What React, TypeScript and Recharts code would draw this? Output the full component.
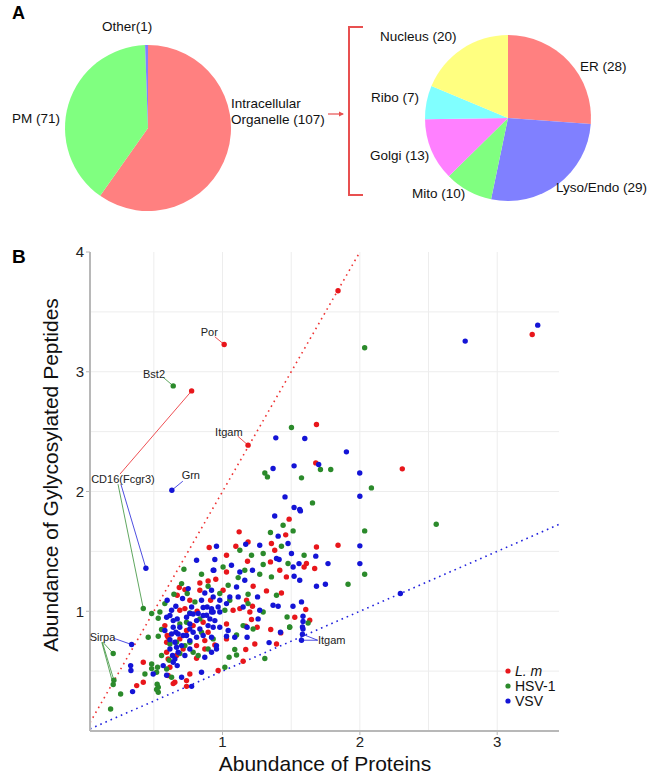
import React from "react";
import {
  CartesianGrid,
  Cell,
  Pie,
  PieChart,
  ReferenceDot,
  ReferenceLine,
  Scatter,
  ScatterChart,
  XAxis,
  YAxis,
} from "recharts";

// panel A
const locationNames = ["Intracellular Organelle", "PM", "Other"];
const locationCounts = [107, 71, 1];
const locationColors = ["#FF8080", "#80FF80", "#8080FF"];

const organelleNames = ["ER", "Lyso/Endo", "Mito", "Golgi", "Ribo", "Nucleus"];
const organelleCounts = [28, 29, 10, 13, 7, 20];
const organelleColors = ["#FF8080", "#8080FF", "#80FF80", "#FF80FF", "#80FFFF", "#FFFF80"];

// panel B: [protein abundance, glycopeptide abundance]
const lmPoints: [number, number][] = [
  [1.012, 3.228], [0.775, 2.84], [1.186, 2.387], [1.841, 3.676], [3.255, 3.311], [2.309, 2.189], [1.841, 1.551],
  [1.684, 2.56], [1.679, 2.239],
  [1.485, 1.769], [1.121, 1.663], [1.46, 1.638], [1.186, 1.579], [1.097, 1.543], [1.356, 1.566], [1.684, 1.537],
  [1.38, 1.51], [1.029, 1.468], [1.182, 1.418], [1.611, 1.399], [1.349, 1.412], [1.417, 1.343], [1.029, 1.328],
  [1.594, 1.37], [1.465, 1.287], [0.951, 1.267], [1.223, 1.209], [1.004, 1.175], [1.32, 1.17], [1.429, 1.153],
  [1.175, 1.092], [1.606, 1.014], [1.218, 1.042], [1.126, 1.022], [1.077, 1.008], [1.199, 0.994],
  [1.526, 0.95], [1.351, 0.847], [1.252, 0.866], [1.211, 0.931], [1.169, 0.875], [1.235, 0.727], [1.393, 0.727],
  [1.169, 0.68], [0.944, 0.718], [1.15, 0.582], [0.968, 0.505], [1.029, 0.769], [1.029, 0.894],
  [0.903, 1.532], [0.835, 1.236], [0.895, 1.253], [0.685, 1.198], [0.726, 1.181], [0.835, 1.175], [0.67, 1.134],
  [0.762, 1.092], [0.913, 1.092], [0.726, 1.022], [0.689, 1.008], [0.815, 1.0],
  [0.58, 0.88], [0.604, 0.783], [0.689, 0.769], [0.811, 0.713], [0.593, 0.657], [0.811, 0.607], [0.423, 0.574],
  [0.617, 0.532], [0.604, 0.463], [0.423, 0.407], [0.375, 0.379], [0.653, 0.407], [0.738, 0.421], [0.762, 0.476],
  [0.738, 0.839], [0.871, 0.755], [0.859, 0.908], [0.597, 0.797], [0.593, 0.741], [0.786, 0.88], [0.895, 0.825],
  [0.713, 0.685], [0.604, 0.602], [0.665, 0.63], [0.871, 0.685],
  [0.641, 0.396], [0.738, 0.373], [1.424, 0.819], [1.635, 0.925], [1.671, 1.357],
];

const hsvPoints: [number, number][] = [
  [0.641, 2.882], [0.423, 1.023], [0.204, 0.647], [0.209, 0.424], [0.204, 0.388], [2.035, 3.2], [1.713, 2.184],
  [1.788, 2.184], [2.084, 2.03], [2.556, 1.727], [2.035, 1.671], [2.035, 1.309], [1.914, 1.226],
  [1.502, 2.535], [1.308, 2.155], [1.327, 2.122], [1.575, 2.114],
  [1.655, 1.905], [1.441, 1.718], [1.349, 1.657], [1.514, 1.671], [1.429, 1.543], [1.126, 1.51], [1.296, 1.482],
  [1.211, 1.468], [1.594, 1.468], [1.477, 1.399], [1.296, 1.39], [1.004, 1.37], [1.162, 1.343], [1.271, 1.309],
  [1.356, 1.287], [1.114, 1.281], [1.041, 1.217], [0.98, 1.148], [1.393, 1.134], [1.186, 1.142], [1.296, 0.994],
  [1.017, 1.008], [1.053, 1.092], [1.186, 1.064],
  [1.47, 0.952], [1.623, 0.902], [1.489, 0.866], [1.223, 0.852], [1.102, 0.802], [1.089, 0.68], [1.102, 0.635],
  [1.048, 0.616], [1.017, 0.532], [0.932, 0.769], [1.15, 0.88], [1.308, 0.605],
  [0.719, 1.351], [0.847, 1.309], [0.702, 1.231], [0.895, 1.209], [0.743, 1.148], [0.646, 1.142], [0.799, 1.078],
  [0.58, 1.064], [0.544, 0.994], [0.484, 0.981], [0.762, 0.986],
  [0.532, 0.942], [0.556, 0.847], [0.459, 0.783], [0.532, 0.791], [0.726, 0.713], [0.823, 0.63], [0.484, 0.56],
  [0.527, 0.532], [0.52, 0.49], [0.435, 0.476], [0.532, 0.365], [0.532, 0.323], [0.258, 0.309], [0.629, 0.449],
  [0.185, 0.184], [0.665, 0.741], [0.847, 0.825], [0.895, 0.685], [0.689, 0.894], [0.617, 0.727], [0.762, 0.741],
  [0.786, 0.657], [0.556, 0.63], [0.593, 0.518], [0.738, 0.908], [0.835, 0.936],
  [0.52, 0.346], [0.524, 0.39], [0.484, 0.521], [0.612, 0.591], [0.689, 0.647], [1.489, 0.869],
];

const vsvPoints: [number, number][] = [
  [0.631, 2.011], [0.442, 1.359], [0.338, 0.722], [1.582, 0.808], [1.575, 0.758], [2.767, 3.256], [3.295, 3.389],
  [1.902, 2.331], [1.999, 2.155], [2.0, 1.96], [2.0, 1.546], [1.768, 1.398], [2.0, 1.398], [1.749, 1.226],
  [2.295, 1.148],
  [1.388, 2.448], [1.599, 2.443], [1.7, 2.226], [1.368, 2.192], [1.521, 2.214], [1.455, 1.955],
  [1.521, 1.866], [1.38, 1.796], [1.562, 1.85], [1.405, 1.627], [1.169, 1.56], [1.271, 1.551], [1.477, 1.566],
  [0.956, 1.543], [1.502, 1.482], [1.679, 1.46], [0.944, 1.432], [1.393, 1.44], [1.412, 1.432], [1.557, 1.398],
  [1.065, 1.384], [1.514, 1.37], [1.218, 1.343], [0.932, 1.343], [1.126, 1.328], [1.521, 1.292], [1.562, 1.259],
  [1.162, 1.259], [1.684, 1.209], [1.102, 1.203], [0.92, 1.175], [1.255, 1.12], [1.053, 1.12], [1.368, 1.05],
  [1.405, 1.042], [1.575, 1.078], [1.271, 1.008], [0.968, 1.036], [0.932, 0.994], [0.932, 1.12], [0.98, 1.092],
  [1.029, 1.064], [1.114, 1.12], [1.15, 1.036], [0.92, 1.022], [0.98, 0.994], [1.567, 1.838], [1.513, 1.042],
  [1.586, 0.958], [1.586, 0.914], [1.586, 0.852], [1.422, 0.825], [1.259, 0.936], [1.179, 0.783], [1.089, 0.783],
  [0.956, 0.685], [0.956, 0.713], [0.92, 0.657], [1.029, 0.791], [1.179, 0.866], [1.041, 0.839], [0.98, 0.866],
  [0.944, 0.922], [1.339, 0.738], [1.582, 0.869],
  [0.811, 1.426], [0.937, 1.343], [0.75, 1.189], [0.871, 1.153], [0.709, 1.106], [0.597, 1.092], [0.847, 1.092],
  [0.888, 1.036], [0.859, 1.031], [0.775, 1.036], [0.66, 1.042], [0.629, 1.008], [0.92, 0.994], [0.762, 0.981],
  [0.884, 0.967], [0.823, 0.981],
  [0.593, 0.95], [0.641, 0.922], [0.617, 0.763], [0.66, 0.825], [0.762, 0.755], [0.665, 0.699], [0.636, 0.63],
  [0.871, 0.616], [0.568, 0.546], [0.495, 0.476], [0.331, 0.546], [0.333, 0.505], [0.345, 0.329], [0.702, 0.449],
  [0.847, 0.49], [0.58, 0.839], [0.713, 0.797], [0.786, 0.825], [0.895, 0.88], [0.762, 0.894],
  [0.617, 0.964], [0.67, 0.936], [0.738, 0.95], [0.786, 0.977], [0.811, 0.922], [0.859, 0.964], [0.908, 0.936],
  [0.932, 0.866], [0.835, 0.852], [0.762, 0.852], [0.689, 0.866], [0.641, 0.866], [0.629, 0.81], [0.677, 0.81],
  [0.738, 0.797], [0.811, 0.783], [0.859, 0.797], [0.92, 0.783], [0.653, 0.741], [0.702, 0.713], [0.762, 0.685],
  [0.677, 0.657], [0.726, 0.63], [0.653, 0.602], [0.617, 0.685], [0.641, 0.574], [0.67, 0.546],
  [0.593, 0.465], [0.775, 0.373],
];

const seriesNames = ["L. m", "HSV-1", "VSV"];
const seriesColors = ["#E8161B", "#2B8A2B", "#1414D6"];

const xTicks = [1, 2, 3];
const yTicks = [1, 2, 3, 4];

// labelled proteins
const geneLabels = [
  { text: "Por", x: 0.904, y: 3.331 },
  { text: "Bst2", x: 0.501, y: 2.98 },
  { text: "Itgam", x: 1.046, y: 2.496 },
  { text: "CD16(Fcgr3)", x: 0.275, y: 2.103 },
  { text: "Grn", x: 0.769, y: 2.136 },
  { text: "Sirpa", x: 0.126, y: 0.783 },
  { text: "Itgam", x: 1.795, y: 0.758 },
];

const geneLinks = [
  { s: 0, from: [0.944, 3.292], to: [1.012, 3.228] },
  { s: 1, from: [0.566, 2.955], to: [0.641, 2.882] },
  { s: 0, from: [1.111, 2.462], to: [1.186, 2.387] },
  { s: 0, from: [0.253, 2.145], to: [0.775, 2.84] },
  { s: 1, from: [0.239, 2.061], to: [0.423, 1.023] },
  { s: 2, from: [0.26, 2.061], to: [0.442, 1.359] },
  { s: 2, from: [0.711, 2.086], to: [0.631, 2.011] },
  { s: 2, from: [0.209, 0.774], to: [0.338, 0.722] },
  { s: 1, from: [0.129, 0.741], to: [0.204, 0.647] },
  { s: 1, from: [0.125, 0.741], to: [0.209, 0.424] },
  { s: 1, from: [0.121, 0.741], to: [0.204, 0.388] },
  { s: 2, from: [1.693, 0.758], to: [1.582, 0.808] },
  { s: 2, from: [1.693, 0.758], to: [1.575, 0.758] },
];

const FONT = "'Liberation Sans', Arial, sans-serif";

const toRows = (pts: [number, number][]) => pts.map(([x, y]) => ({ x, y }));
const dot = (color: string) => (p: any) => <circle cx={p.cx} cy={p.cy} r={2.7} fill={color} />;

export default function App() {
  const pieA = locationNames.map((name, i) => ({ name, value: locationCounts[i] }));
  const pieB = organelleNames.map((name, i) => ({ name, value: organelleCounts[i] }));
  const series = [lmPoints, hsvPoints, vsvPoints];

  return (
    <div style={{ position: "absolute", left: 0, top: 0, width: 650, height: 776, background: "#fff", fontFamily: FONT }}>
      <div style={{ position: "absolute", left: 0, top: 0 }}>
        <PieChart width={650} height={235}>
          <Pie data={pieA} dataKey="value" cx={143} cy={123} outerRadius={83} startAngle={90} endAngle={-270}
            stroke="none" isAnimationActive={false}>
            {pieA.map((d, i) => <Cell key={d.name} fill={locationColors[i]} />)}
          </Pie>
          <Pie data={pieB} dataKey="value" cx={503} cy={113} outerRadius={83} startAngle={90} endAngle={-270}
            stroke="none" isAnimationActive={false}>
            {pieB.map((d, i) => <Cell key={d.name} fill={organelleColors[i]} />)}
          </Pie>
        </PieChart>
      </div>

      <div style={{ position: "absolute", left: 0, top: 240 }}>
        <ScatterChart width={650} height={536} margin={{ top: 12, right: 91, bottom: 0, left: 0 }}>
          <CartesianGrid stroke="#EDEDED" verticalValues={[0.5, 1, 1.5, 2, 2.5, 3]}
            horizontalValues={[0.5, 1, 1.5, 2, 2.5, 3, 3.5]} />
          <XAxis type="number" dataKey="x" domain={[0.035, 3.45]} allowDataOverflow ticks={xTicks} height={45}
            tick={{ fontSize: 15, fill: "#222", fontFamily: FONT }} tickSize={4} tickMargin={1}
            axisLine={{ stroke: "#B8B8B8", strokeWidth: 2 }} tickLine={{ stroke: "#B8B8B8" }} />
          <YAxis type="number" dataKey="y" domain={[0, 4]} allowDataOverflow ticks={yTicks} width={90}
            tick={{ fontSize: 15, fill: "#222", fontFamily: FONT }} tickSize={4} tickMargin={2}
            axisLine={{ stroke: "#B8B8B8", strokeWidth: 2 }} tickLine={{ stroke: "#B8B8B8" }} />
          <ReferenceLine segment={[{ x: 0.035, y: 0.07 }, { x: 2, y: 4 }]} stroke="#EE3333"
            strokeWidth={1.6} strokeDasharray="1.6 4" ifOverflow="visible" />
          <ReferenceLine segment={[{ x: 0.035, y: 0.0175 }, { x: 3.45, y: 1.725 }]} stroke="#2222DD"
            strokeWidth={1.6} strokeDasharray="1.6 4" ifOverflow="visible" />
          {geneLinks.map((l, i) => (
            <ReferenceLine key={"l" + i} segment={[{ x: l.from[0], y: l.from[1] }, { x: l.to[0], y: l.to[1] }]}
              stroke={seriesColors[l.s]} strokeOpacity={0.75} strokeWidth={1} ifOverflow="visible" />
          ))}
          {series.map((pts, i) => (
            <Scatter key={seriesNames[i]} name={seriesNames[i]} data={toRows(pts)} fill={seriesColors[i]}
              shape={dot(seriesColors[i])} isAnimationActive={false} />
          ))}
          {geneLabels.map((g, i) => (
            <ReferenceDot key={"g" + i} x={g.x} y={g.y} r={0} ifOverflow="visible"
              shape={(p: any) => (
                <text x={p.cx} y={p.cy} textAnchor="middle" dominantBaseline="central" fontSize={11}
                  fill="#222" fontFamily={FONT}>{g.text}</text>
              )} />
          ))}
        </ScatterChart>
      </div>

      <svg width={650} height={776} style={{ position: "absolute", left: 0, top: 0, pointerEvents: "none" }}
        fontFamily={FONT}>
        <text x={12} y={19} fontSize={18} fontWeight="bold">A</text>
        <text x={12} y={263} fontSize={19} fontWeight="bold">B</text>

        <g fontSize={13.5} fill="#111">
          <text x={102} y={31}>Other(1)</text>
          <text x={12} y={123}>PM (71)</text>
          <text x={231} y={108}>Intracellular</text>
          <text x={231} y={124}>Organelle (107)</text>
          <text x={380} y={41}>Nucleus (20)</text>
          <text x={580} y={71}>ER (28)</text>
          <text x={371} y={102}>Ribo (7)</text>
          <text x={370} y={160}>Golgi (13)</text>
          <text x={412} y={198}>Mito (10)</text>
          <text x={556} y={192}>Lyso/Endo (29)</text>
        </g>
        <line x1={328} y1={114} x2={343} y2={114} stroke="#E85050" strokeWidth={1.2} />
        <path d="M339,111.5 L344,114 L339,116.5 Z" fill="#E85050" />
        <path d="M363,27 L349,27 L349,195 L363,195" fill="none" stroke="#E85050" strokeWidth={2} />

        <text transform="translate(58,475) rotate(-90)" textAnchor="middle" fontSize={21} fill="#111">
          Abundance of Gylycosylated Peptides
        </text>
        <text x={325} y={771} textAnchor="middle" fontSize={21} fill="#111">Abundance of Proteins</text>

        {seriesNames.map((n, i) => (
          <g key={n}>
            <circle cx={508} cy={671 + i * 15} r={2.6} fill={seriesColors[i]} />
            <text x={515} y={676 + i * 15} fontSize={14} fill="#111" fontStyle={i === 0 ? "italic" : "normal"}>
              {n}
            </text>
          </g>
        ))}
      </svg>
    </div>
  );
}
